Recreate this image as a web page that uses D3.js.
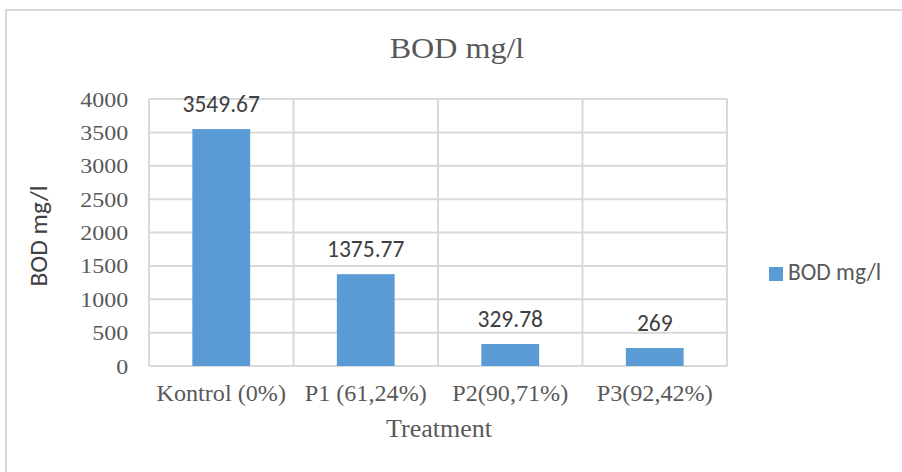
<!DOCTYPE html>
<html>
<head>
<meta charset="utf-8">
<script src="https://cdn.jsdelivr.net/npm/d3@7"></script>
<style>
  body { margin: 0; background: #fff; }
  svg { display: block; }
</style>
</head>
<body>
<script>
// Chart data
var categories = ["Kontrol (0%)", "P1 (61,24%)", "P2(90,71%)", "P3(92,42%)"];
var bodValues = [3549.67, 1375.77, 329.78, 269];
var valueLabels = ["3549.67", "1375.77", "329.78", "269"];
var yTicks = [0, 500, 1000, 1500, 2000, 2500, 3000, 3500, 4000];
var seriesName = "BOD mg/l";

// Set the dimensions of the canvas / plot area
var W = 902, H = 472;
var plot = {left: 149, right: 727, top: 99, bottom: 366};

var serif = "'Liberation Serif', 'Times New Roman', serif";
var sans = "Carlito, 'Open Sans', 'Liberation Sans', sans-serif";

var svg = d3.select("body").append("svg")
    .attr("width", W)
    .attr("height", H);

// outer chart border (runs off the right and bottom edge)
svg.append("rect")
    .attr("x", 6).attr("y", 10)
    .attr("width", W + 20).attr("height", H + 20)
    .attr("fill", "#fff")
    .attr("stroke", "#d9d9d9")
    .attr("stroke-width", 2);

// Set the ranges
var x = d3.scaleBand()
    .domain(categories)
    .range([plot.left, plot.right])
    .paddingInner(0.6)
    .paddingOuter(0.3);
var xb = d3.scaleBand().domain(categories).range([plot.left, plot.right]);
var y = d3.scaleLinear().domain([0, 4000]).range([plot.bottom, plot.top]);

// horizontal grid
svg.append("g").selectAll("line")
    .data(yTicks)
    .enter().append("line")
    .attr("x1", plot.left).attr("x2", plot.right)
    .attr("y1", function(d) { return y(d); })
    .attr("y2", function(d) { return y(d); })
    .attr("stroke", "#d9d9d9")
    .attr("stroke-width", 2);

// vertical grid at category boundaries
var bounds = categories.map(function(c) { return xb(c); }).concat([plot.right]);
svg.append("g").selectAll("line")
    .data(bounds)
    .enter().append("line")
    .attr("x1", function(d) { return d; }).attr("x2", function(d) { return d; })
    .attr("y1", plot.top).attr("y2", plot.bottom)
    .attr("stroke", "#d9d9d9")
    .attr("stroke-width", 2);

// bars
svg.append("g").selectAll("rect")
    .data(bodValues)
    .enter().append("rect")
    .attr("x", function(d, i) { return x(categories[i]); })
    .attr("width", x.bandwidth())
    .attr("y", function(d) { return y(d); })
    .attr("height", function(d) { return y(0) - y(d); })
    .attr("fill", "#5b9bd5");

// value labels
svg.append("g").selectAll("text")
    .data(bodValues)
    .enter().append("text")
    .attr("x", function(d, i) { return x(categories[i]) + x.bandwidth() / 2; })
    .attr("y", function(d) { return y(d) - 17; })
    .attr("text-anchor", "middle")
    .style("font-family", sans)
    .style("font-size", "23.5px")
    .attr("fill", "#404040")
    .text(function(d, i) { return valueLabels[i]; });

// Y axis labels
var yAxis = d3.axisLeft(y).tickValues(yTicks).tickFormat(d3.format("d"))
    .tickSize(0).tickPadding(19);
var gy = svg.append("g")
    .attr("transform", "translate(" + plot.left + ",0)")
    .call(yAxis);
gy.select(".domain").remove();
gy.selectAll("text")
    .attr("transform", "scale(1.09,1)")
    .style("font-family", serif)
    .style("font-size", "22px")
    .attr("fill", "#595959");

// X axis labels
var xAxis = d3.axisBottom(xb).tickSize(0).tickPadding(19);
var gx = svg.append("g")
    .attr("transform", "translate(0," + plot.bottom + ")")
    .call(xAxis);
gx.select(".domain").remove();
gx.selectAll("text")
    .attr("transform", "scale(1.05,1)")
    .style("font-family", serif)
    .style("font-size", "23px")
    .attr("fill", "#595959");

// title
svg.append("text")
    .attr("transform", "translate(457,58) scale(1.07,1)")
    .attr("text-anchor", "middle")
    .style("font-family", serif)
    .style("font-size", "30px")
    .attr("fill", "#595959")
    .text(seriesName);

// x axis title
svg.append("text")
    .attr("transform", "translate(439,437)")
    .attr("text-anchor", "middle")
    .style("font-family", serif)
    .style("font-size", "26px")
    .attr("fill", "#595959")
    .text("Treatment");

// y axis title
svg.append("text")
    .attr("transform", "translate(47,236) rotate(-90)")
    .attr("text-anchor", "middle")
    .style("font-family", sans)
    .style("font-size", "25.5px")
    .attr("fill", "#404040")
    .text(seriesName);

// legend
var legend = svg.append("g").attr("transform", "translate(769,267)");
legend.append("rect")
    .attr("width", 14).attr("height", 14)
    .attr("fill", "#5b9bd5");
legend.append("text")
    .attr("x", 19).attr("y", 13)
    .style("font-family", sans)
    .style("font-size", "23.5px")
    .attr("fill", "#595959")
    .text(seriesName);
</script>
</body>
</html>
